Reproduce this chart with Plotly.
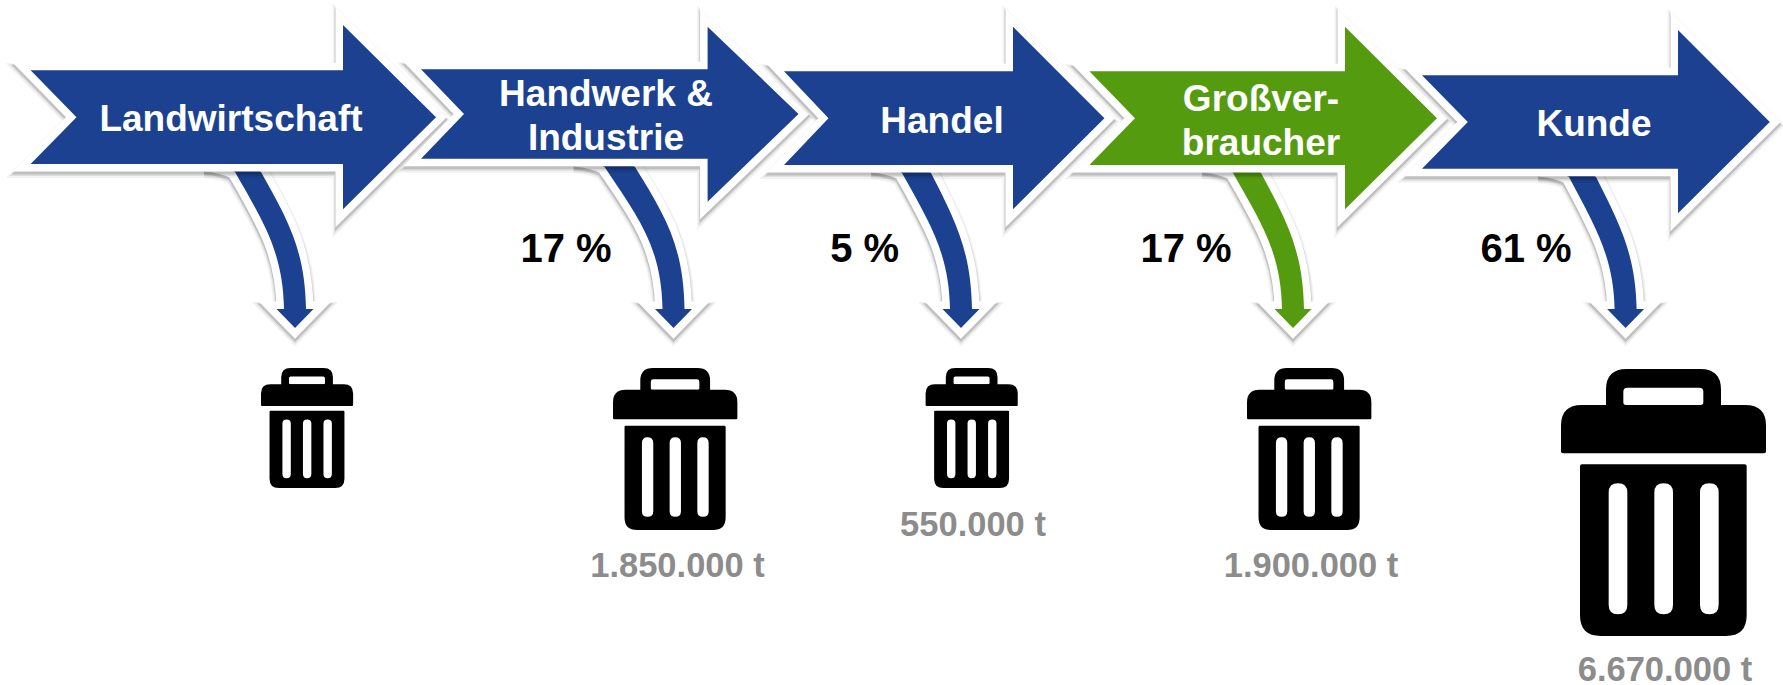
import plotly.graph_objects as go

# ---------- data ----------
stages = ["Landwirtschaft", "Handwerk &\nIndustrie", "Handel", "Großver-\nbraucher", "Kunde"]
shares_pct = [None, 17, 5, 17, 61]
tonnes = [None, 1850000, 550000, 1900000, 6670000]

# ---------- layout of the picture (canvas pixels, not data) ----------
W, H = 1783, 685
BLUE, GREEN = "#1b4190", "#549b10"
stage_colors = [BLUE, BLUE, BLUE, GREEN, BLUE]
# tail x, notch x, head x, tip x, bar top, bar bottom, head top, head bottom
main_geom = [
    (30.6, 76.5, 343, 436, 70.3, 164, 25, 209.3),
    (421, 464, 707.6, 798.5, 69.3, 158.7, 26.7, 201.7),
    (784, 828.5, 1013, 1104.4, 71.3, 165, 26.7, 209.3),
    (1089.4, 1135, 1345, 1437, 71.3, 165, 26.7, 209.3),
    (1422, 1467.8, 1678, 1769.8, 75.3, 168.7, 30, 213.3),
]
# tip x, shaft left at top, shaft right at top, y at top
drop_geom = [
    (295, 235, 261, 172),
    (673.5, 604.6, 635, 167),
    (961, 902, 931, 173),
    (1293, 1233, 1261, 173),
    (1625.6, 1569, 1596, 177),
]
can_box = [(261, 368, 120), (613, 368, 162), (925.6, 368, 120), (1247, 368, 162), (1561, 369, 267)]
label_xy = [(231, 122), (606, 97), (942, 123.5), (1261, 102), (1594, 127)]
LINE_GAP = 44
pct_xy = [None, (566, 251.5), (864.7, 251.5), (1186, 251.5), (1526, 251.5)]
tonne_xy = [None, (677.5, 568.5), (973, 527), (1311, 568.5), (1665, 672.5)]


def fmt_tonnes(v):
    return f"{v:,}".replace(",", ".") + " t"


def main_path(g):
    xl, xn, xh, xt, yt, yb, yht, yhb = g
    yc = (yt + yb) / 2
    return (f"M{xl},{yt} L{xh},{yt} L{xh},{yht} L{xt},{yc} L{xh},{yhb} "
            f"L{xh},{yb} L{xl},{yb} L{xn},{yc} Z")


def drop_path(g):
    tip, tl, tr, top = g
    base, ytip = 309, 328
    head_half, shaft_half = 18.5, 11
    xl, xr = tip - shaft_half, tip + shaft_half
    dl, dr = xl - tl, xr - tr
    return (f"M{tl-30},{top-8} Q{tl-10},{top-6} {tl},{top} "
            f"C{tl+0.58*dl},{top+50} {xl-1},{top+80} {xl},{base} "
            f"L{tip-head_half},{base} L{tip},{ytip} L{tip+head_half},{base} L{xr},{base} "
            f"C{xr-1},{top+78} {tr+0.6*dr},{top+48} {tr},{top} "
            f"Q{tr-10},{top-8} {tr-28},{top-14} Z")


def rrect(f, x0, y0, x1, y1, tl, tr, br, bl):
    def P(x, y):
        u, v = f(x, y)
        return f"{u:.2f},{v:.2f}"
    return (f"M{P(x0+tl,y0)} L{P(x1-tr,y0)} Q{P(x1,y0)} {P(x1,y0+tr)} "
            f"L{P(x1,y1-br)} Q{P(x1,y1)} {P(x1-br,y1)} "
            f"L{P(x0+bl,y1)} Q{P(x0,y1)} {P(x0,y1-bl)} "
            f"L{P(x0,y0+tl)} Q{P(x0,y0)} {P(x0+tl,y0)} Z")


def can_shapes(box):
    x0, y0, h = box
    s = h / 801
    f = lambda x, y: (x0 + (x - 183) * s, y0 + (y - 57) * s)
    handle = rrect(f, 318, 57, 663, 172, 62, 62, 0, 0) + " " + rrect(f, 370, 113, 610, 165, 12, 12, 8, 8)
    lid = rrect(f, 183, 165, 798, 310, 62, 62, 6, 6)
    body = rrect(f, 240, 343, 740, 858, 6, 6, 62, 62)
    for sx in (326, 463, 600):
        body += " " + rrect(f, sx, 400, sx + 56, 793, 28, 28, 28, 28)
    return [
        dict(type="path", path=p, xref="x", yref="y", fillcolor="#000000", fillrule="evenodd",
             line=dict(width=0), layer="below")
        for p in (handle, lid, body)
    ]


def path_shift(path, dy):
    res = []
    for tok in path.split():
        cmd = tok[0] if tok[0].isalpha() else ""
        body = tok[1:] if cmd else tok
        if body:
            x, y = body.split(",")
            res.append(f"{cmd}{x},{float(y)+dy}")
        else:
            res.append(tok)
    return " ".join(res)


def outlined(path, color, outline):
    out = []
    for w, a, dy in ((outline + 6, 0.05, 3.5), (outline + 3, 0.08, 3), (outline + 1, 0.14, 2.5)):
        out.append(dict(type="path", path=path_shift(path, dy), xref="x", yref="y",
                        fillcolor=f"rgba(0,0,0,{a})",
                        line=dict(color=f"rgba(0,0,0,{a})", width=w), layer="below"))
    out.append(dict(type="path", path=path, xref="x", yref="y", fillcolor="#ffffff",
                    line=dict(color="#ffffff", width=outline), layer="below"))
    out.append(dict(type="path", path=path, xref="x", yref="y", fillcolor=color,
                    line=dict(width=0), layer="below"))
    return out


shapes = []
for g, c in zip(drop_geom, stage_colors):
    shapes += outlined(drop_path(g), c, 15)
for g, c in zip(main_geom, stage_colors):
    shapes += outlined(main_path(g), c, 15)
for b in can_box:
    shapes += can_shapes(b)

fig = go.Figure()

lx, ly, lt = [], [], []
for (x, y), s in zip(label_xy, stages):
    for i, line in enumerate(s.split("\n")):
        lx.append(x)
        ly.append(y + i * LINE_GAP)
        lt.append(line)
fig.add_trace(go.Scatter(x=lx, y=ly, text=lt, mode="text", textposition="middle center",
                         textfont=dict(family="Liberation Sans", size=37, color="#ffffff", weight="bold"),
                         hoverinfo="skip", showlegend=False))

px = [p[0] for p, v in zip(pct_xy, shares_pct) if v is not None]
py = [p[1] for p, v in zip(pct_xy, shares_pct) if v is not None]
pt = [f"{v} %" for v in shares_pct if v is not None]
fig.add_trace(go.Scatter(x=px, y=py, text=pt, mode="text", textposition="middle center",
                         textfont=dict(family="Liberation Sans", size=40, color="#000000", weight="bold"),
                         hoverinfo="skip", showlegend=False))

tx = [p[0] for p, v in zip(tonne_xy, tonnes) if v is not None]
ty = [p[1] for p, v in zip(tonne_xy, tonnes) if v is not None]
tt = [fmt_tonnes(v) for v in tonnes if v is not None]
fig.add_trace(go.Scatter(x=tx, y=ty, text=tt, mode="text", textposition="middle center", cliponaxis=False,
                         textfont=dict(family="Liberation Sans", size=34.5, color="#8c8c8c", weight="bold"),
                         hoverinfo="skip", showlegend=False))

fig.update_layout(
    width=W, height=H, autosize=False,
    margin=dict(l=0, r=0, t=0, b=0),
    paper_bgcolor="#ffffff", plot_bgcolor="#ffffff",
    xaxis=dict(range=[0, W], visible=False, fixedrange=True),
    yaxis=dict(range=[H, 0], visible=False, fixedrange=True),
    shapes=shapes,
)
fig.write_html("out.html", config=dict(displayModeBar=False),
               post_script="document.body.style.margin='0';document.body.style.overflow='hidden';")
